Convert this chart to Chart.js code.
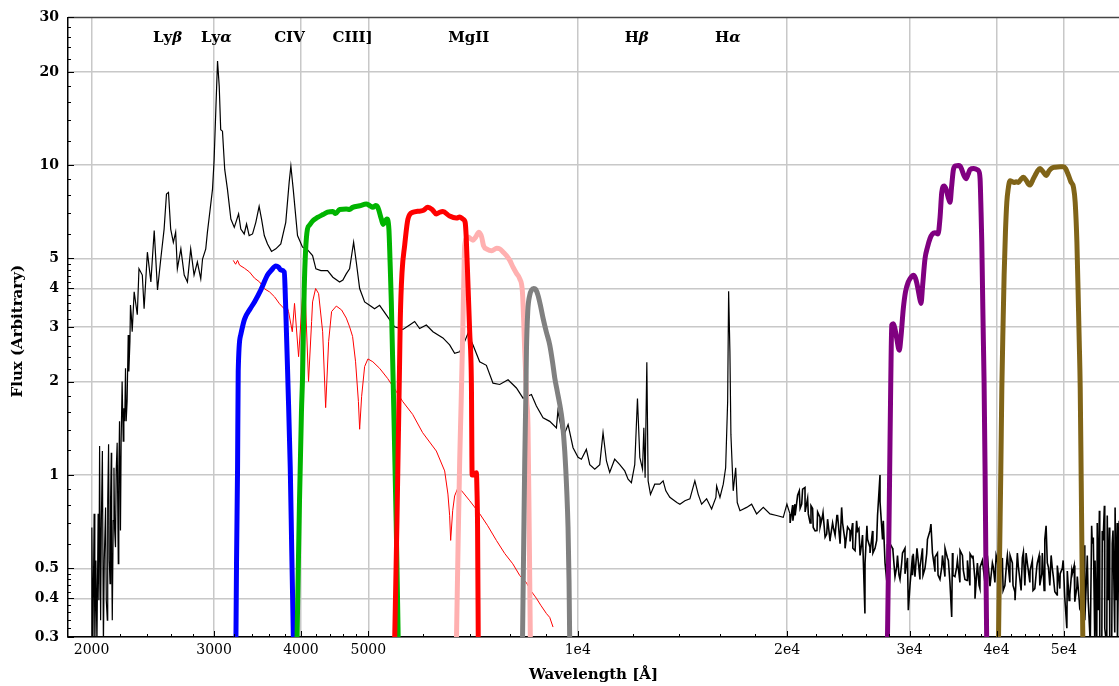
<!DOCTYPE html>
<html>
<head>
<meta charset="utf-8">
<script src="https://cdn.jsdelivr.net/npm/chart.js@4.4.0/dist/chart.umd.min.js"></script>
<style>
  html, body { margin: 0; padding: 0; background: #fff; }
  #wrap { width: 1119px; height: 686px; }
</style>
</head>
<body>
<div id="wrap"><canvas id="chart" width="1119" height="686"></canvas></div>
<script>
/**
 * Quasar spectrum with filter curves (log-log)
 */

// Axis ticks
const xTickValues = [2000, 3000, 4000, 5000, 10000, 20000, 30000, 40000, 50000];
const xTickLabels = ['2000', '3000', '4000', '5000', '1e4', '2e4', '3e4', '4e4', '5e4'];
const xMinorTicks = [2200, 2400, 2600, 2800, 3200, 3400, 3600, 3800, 4200, 4400, 4600, 4800,
  6000, 7000, 8000, 9000, 12000, 14000, 16000, 18000, 22000, 24000, 26000, 28000,
  32000, 34000, 36000, 38000, 42000, 44000, 46000, 48000];
const yTickValues = [0.3, 0.4, 0.5, 1, 2, 3, 4, 5, 10, 20, 30];
const yTickLabels = ['0.3', '0.4', '0.5', '1', '2', '3', '4', '5', '10', '20', '30'];
const yMinorTicks = [0.32, 0.34, 0.36, 0.38, 0.42, 0.44, 0.46, 0.48, 0.6, 0.7, 0.8, 0.9,
  1.2, 1.4, 1.6, 1.8, 2.2, 2.4, 2.6, 2.8, 3.2, 3.4, 3.6, 3.8, 4.2, 4.4, 4.6, 4.8,
  6, 7, 8, 9, 12, 14, 16, 18, 22, 24, 26, 28];

// Emission line labels (observed wavelength)
const lineNames = ['Lyβ', 'Lyα', 'CIV', 'CIII]', 'MgII', 'Hβ', 'Hα'];
const lineWaves = [2572, 3024, 3851, 4746, 6970, 12158, 16440];
const lineLabelFlux = 25.7;

// Observed spectrum [wavelength, flux]
const spectrum = [
  [2000,0.28],[2002,0.677],[2009,0.28],[2017,0.75],[2022,0.28],[2029,0.53],[2036,0.28],[2044,0.75],
  [2049,0.394],[2054,1.24],[2061,0.34],[2066,0.712],[2073,1.195],[2080,0.28],[2086,0.53],[2095,0.785],
  [2100,0.394],[2107,0.34],[2110,0.826],[2116,1.256],[2121,0.53],[2126,0.446],[2130,0.826],[2135,1.18],
  [2138,0.53],[2142,0.34],[2149,0.712],[2154,1.055],[2159,0.662],[2165,0.585],[2170,1.031],[2177,1.271],
  [2185,0.517],[2189,1.031],[2194,1.492],[2201,0.662],[2206,1.287],[2213,2.005],[2221,1.287],[2226,1.644],
  [2232,1.492],[2238,2.21],[2243,1.492],[2250,1.729],[2258,2.83],[2263,2.16],[2271,2.70],[2275,3.54],
  [2281,3.29],[2288,2.90],[2303,3.90],[2327,3.29],[2340,4.63],[2366,4.42],[2380,3.44],[2406,5.24],
  [2434,4.20],[2461,6.15],[2488,3.96],[2515,4.98],[2543,6.22],[2563,8.07],[2580,8.17],[2599,6.22],
  [2622,5.64],[2642,6.08],[2657,4.63],[2688,5.37],[2718,4.42],[2747,4.20],[2777,5.37],[2808,4.42],
  [2839,4.87],[2871,4.30],[2888,4.98],[2919,5.37],[2935,6.08],[2962,7.22],[2985,8.37],[3001,10.44],
  [3018,15.12],[3035,21.7],[3052,17.97],[3067,13.03],[3085,12.88],[3108,9.69],[3136,8.37],[3172,6.70],
  [3208,6.30],[3254,6.96],[3278,6.22],[3315,6.00],[3341,6.46],[3370,5.93],[3408,6.00],[3445,6.54],
  [3483,7.37],[3511,6.70],[3543,5.93],[3581,5.57],[3629,5.27],[3681,5.37],[3742,5.57],[3804,6.54],
  [3847,8.80],[3869,9.94],[3899,8.37],[3955,5.93],[4021,5.44],[4087,5.34],[4157,5.11],[4203,4.63],
  [4273,4.57],[4369,4.57],[4446,4.35],[4546,4.20],[4596,4.26],[4647,4.46],[4699,4.63],[4762,5.64],
  [4804,4.87],[4858,4.00],[4939,3.62],[5020,3.53],[5104,3.44],[5190,3.53],[5306,3.29],[5453,3.01],
  [5606,2.95],[5732,3.05],[5828,3.13],[5925,2.97],[6058,3.05],[6192,2.90],[6400,2.77],[6544,2.63],
  [6653,2.47],[6765,2.50],[6878,2.70],[6952,2.86],[7070,2.63],[7228,2.32],[7390,2.26],[7554,1.98],
  [7724,1.96],[7940,2.03],[8163,1.91],[8344,1.77],[8579,1.82],[8721,1.67],[8915,1.53],[9115,1.49],
  [9319,1.42],[9365,1.61],[9525,1.32],[9686,1.455],[9846,1.225],[10010,1.14],[10122,1.125],[10289,1.21],
  [10406,1.08],[10580,1.045],[10756,1.08],[10874,1.37],[10997,1.11],[11116,1.02],[11301,1.125],[11492,1.08],
  [11684,1.031],[11813,0.97],[11943,0.945],[12077,1.08],[12186,1.765],[12281,1.14],[12392,1.045],[12446,1.42],
  [12499,0.98],[12570,2.31],[12624,0.957],[12723,0.866],[12904,0.934],[13122,0.934],[13266,0.957],[13386,0.889],
  [13564,0.847],[13884,0.815],[14024,0.805],[14258,0.826],[14496,0.838],[14736,0.957],[14901,0.866],[15069,0.805],
  [15321,0.838],[15576,0.777],[15800,0.847],[15837,0.922],[16013,0.847],[16189,0.934],[16317,1.055],[16426,1.729],
  [16479,3.92],[16549,2.50],[16604,1.35],[16731,0.889],[16869,1.055],[16956,0.815],[17110,0.767],[17493,0.786],
  [17782,0.805],[18079,0.749],[18481,0.786],[18896,0.749],[19315,0.74],[19745,0.73],[20188,0.749],[20524,0.805],
  [20822,0.889],[20989,0.805],[21218,0.911],[21452,0.749],[21805,0.677],[22300,0.73],[22800,0.645],[23308,0.677],
  [23955,0.786],[24218,0.615],[24623,0.662],[25170,0.712],[25595,0.600],[25875,0.357],[26308,0.585],[26901,0.615],
  [27200,1.0],[27499,0.712],[27809,0.457],[28117,0.600],[28740,0.504],[29226,0.522],[29871,0.366],[30361,0.557],
  [31050,0.504],[31745,0.557],[32196,0.694],[32629,0.543],[33369,0.504],[34106,0.530],[34484,0.348],[35060,0.504],
  [35840,0.492],[36645,0.557],[37251,0.399],[37880,0.504],[38728,0.457],[39580,0.504],[40480,0.48],[41387,0.530],
  [42532,0.394],[43008,0.504],[43726,0.564],[44707,0.492],[45702,0.504],[46473,0.48],[47134,0.686],[47499,0.504],
  [48284,0.468],[49380,0.48],[50486,0.32],[51321,0.492],[52195,0.435],[53071,0.357],[53952,0.504],[54548,0.28],
  [55109,0.629],[55740,0.28],[56230,0.767],[56680,0.28],[57166,0.796],[57620,0.28],[58107,0.677],[58570,0.28],
  [59230,0.786],[59690,0.28],[60030,0.712]
];

// Extra noisy samples of the infrared part of the spectrum
const spectrumNoise = [
  [19985,0.805],[20386,0.712],[21644,0.796],[22078,0.662],[22523,0.755],[23051,0.615],[23582,0.74],[24860,0.58],
  [25366,0.672],[26046,0.686],[26569,0.56],[28386,0.571],[28964,0.475],[29545,0.58],[30290,0.475],[30740,0.58],
  [31360,0.475],[32961,0.475],[33734,0.58],[34628,0.475],[35450,0.571],[36280,0.457],[37000,0.55],[37755,0.44],
  [38513,0.55],[39157,0.44],[39945,0.55],[40885,0.424],[41836,0.55],[42247,0.44],[43393,0.424],[44115,0.56],
  [45138,0.424],[46058,0.55],[46829,0.424],[47928,0.55],[48886,0.41],[49874,0.53],[50861,0.394],[51725,0.51],
  [52596,0.394],[53477,0.593],[54184,0.394],[54807,0.686],[55425,0.53],[55988,0.366],[56924,0.615],[57871,0.394],
  [58823,0.662],[59450,0.394],
  [20200,0.70],[20368,0.80],[20537,0.74],[20707,0.86],[20879,0.78],[21052,0.90],[21227,0.76],[21403,0.84],
  [21581,0.70],[21760,0.78],[21941,0.66],[22123,0.76],[22307,0.68],[22492,0.74],[22679,0.63],[22867,0.72],
  [23057,0.62],[23248,0.70],[23441,0.64],[23636,0.74],[23832,0.60],[24030,0.70],[24229,0.58],[24430,0.68],
  [24633,0.61],[24837,0.70],[25043,0.57],[25251,0.66],[25461,0.55],[25672,0.64],[25885,0.52],[26100,0.62],
  [26317,0.56],[26535,0.66],[26755,0.58],[26977,0.74],[27201,0.82],[27427,0.62],[27655,0.52],[27884,0.60],
  [28116,0.50],[28349,0.58],[28584,0.47],[28821,0.55],[29061,0.46],[29302,0.56],[29545,0.48],[29790,0.54],
  [30037,0.44],[30287,0.55],[30538,0.47],[30792,0.56],[31047,0.46],[31305,0.58],[31565,0.50],[31827,0.62],
  [32091,0.66],[32357,0.56],[32626,0.49],[32897,0.56],[33170,0.46],[33445,0.55],[33723,0.47],[34003,0.54],
  [34285,0.45],[34569,0.56],[34856,0.47],[35146,0.53],[35437,0.45],[35732,0.55],[36028,0.46],[36327,0.53],
  [36629,0.44],[36933,0.54],[37239,0.46],[37548,0.52],[37860,0.43],[38174,0.53],[38491,0.45],[38811,0.55],
  [39133,0.44],[39458,0.52],[39785,0.45],[40115,0.53],[40448,0.43],[40784,0.54],[41123,0.44],[41464,0.55],
  [41808,0.45],[42155,0.52],[42505,0.42],[42858,0.56],[43213,0.46],[43572,0.54],[43934,0.44],[44298,0.52],
  [44666,0.45],[45037,0.53],[45410,0.43],[45787,0.52],[46167,0.44],[46550,0.56],[46937,0.62],[47326,0.52],
  [47719,0.44],[48115,0.50],[48515,0.42],[48917,0.51],[49323,0.43],[49733,0.50],[50146,0.40],[50562,0.49],
  [50982,0.41],[51405,0.48],[51832,0.39],[52262,0.47],[52696,0.37],[53133,0.50],[53574,0.34],[54019,0.55],
  [54467,0.31],[54919,0.60],[55375,0.29],[55835,0.70],[56298,0.30],[56765,0.66],[57237,0.32],[57712,0.74],
  [58191,0.29],[58674,0.60],[59161,0.31],[59652,0.70]
];

// Model spectrum (thin red)
const model = [
  [3197,4.93],[3222,4.79],[3243,4.93],[3264,4.76],[3318,4.65],[3374,4.52],[3430,4.32],[3488,4.20],
  [3546,3.99],[3605,3.90],[3665,3.76],[3726,3.57],[3785,3.44],[3814,3.54],[3839,3.37],[3887,2.90],
  [3916,3.58],[3969,2.41],[4025,3.90],[4061,3.62],[4102,2.005],[4144,3.13],[4157,3.62],[4199,4.00],
  [4241,3.85],[4298,2.90],[4341,1.65],[4384,2.70],[4427,3.37],[4497,3.51],[4576,3.41],[4648,3.21],
  [4699,3.01],[4746,2.80],[4793,2.32],[4838,1.729],[4858,1.405],[4890,1.795],[4939,2.24],[4993,2.37],
  [5075,2.32],[5190,2.21],[5329,2.05],[5484,1.862],[5600,1.729],[5789,1.57],[5984,1.37],[6262,1.195],
  [6437,1.031],[6507,0.868],[6544,0.739],[6566,0.615],[6610,0.767],[6653,0.856],[6727,0.91],[6810,0.889],
  [6993,0.826],[7228,0.75],[7422,0.686],[7639,0.615],[7853,0.558],[8064,0.517],[8253,0.474],[8438,0.449],
  [8558,0.424],[8721,0.40],[8847,0.38],[9016,0.357],[9115,0.347],[9215,0.323]
];

// Filter transmission curves (scaled)
const blueFilter = [
  [3225,0.28],[3232,0.53],[3243,1.055],[3250,2.16],[3278,2.84],[3318,3.18],[3382,3.44],[3430,3.62],
  [3503,3.96],[3581,4.42],[3629,4.59],[3681,4.73],[3714,4.69],[3742,4.59],[3785,4.52],[3801,3.62],
  [3832,1.96],[3861,1.055],[3880,0.571],[3903,0.28]
];
const greenFilter = [
  [3947,0.28],[3981,0.826],[4007,1.606],[4021,2.06],[4044,4.00],[4061,5.24],[4087,6.22],[4116,6.41],
  [4161,6.62],[4225,6.78],[4302,6.93],[4369,7.05],[4446,7.09],[4487,6.98],[4546,7.2],[4647,7.22],
  [4699,7.2],[4746,7.31],[4858,7.40],[4967,7.49],[5020,7.41],[5075,7.31],[5121,7.41],[5159,7.31],
  [5220,6.70],[5250,6.44],[5317,6.70],[5352,6.22],[5373,4.87],[5395,3.62],[5436,1.729],[5482,0.712],
  [5522,0.28]
];
const redFilter = [
  [5453,0.28],[5497,0.712],[5545,2.32],[5558,3.21],[5590,4.52],[5638,5.50],[5700,6.70],[5795,7.05],
  [5886,7.10],[5990,7.14],[6089,7.31],[6175,7.20],[6262,6.96],[6331,7.05],[6400,7.09],[6544,6.85],
  [6691,6.75],[6765,6.80],[6839,6.70],[6889,6.54],[6913,5.86],[6954,4.10],[6993,2.90],[7033,1.96],
  [7050,1.0],[7071,1.0],[7150,1.017],[7164,0.889],[7178,0.677],[7195,0.28]
];
const pinkFilter = [
  [6691,0.28],[6731,0.615],[6765,1.11],[6799,1.729],[6839,3.13],[6862,4.52],[6878,5.50],[6954,5.86],
  [7070,5.73],[7133,5.86],[7211,6.08],[7276,5.86],[7320,5.50],[7413,5.35],[7522,5.30],[7647,5.39],
  [7724,5.37],[7814,5.24],[7897,5.11],[7984,4.93],[8072,4.69],[8163,4.48],[8253,4.30],[8327,3.90],
  [8363,3.13],[8391,2.50],[8447,1.729],[8483,1.42],[8516,0.662],[8550,0.28]
];
const grayFilter = [
  [8327,0.28],[8363,0.615],[8391,1.11],[8419,1.729],[8438,2.50],[8475,3.37],[8530,3.80],[8587,3.96],
  [8644,4.00],[8702,3.97],[8768,3.80],[8833,3.55],[8915,3.21],[9011,2.90],[9115,2.63],[9199,2.32],
  [9267,2.06],[9345,1.862],[9422,1.69],[9501,1.492],[9579,1.195],[9643,0.889],[9684,0.677],[9716,0.457],
  [9739,0.28]
];
const purpleFilter = [
  [27869,0.28],[27980,0.53],[28073,0.957],[28186,2.005],[28280,3.05],[28430,3.08],[28592,2.95],[28740,2.77],
  [28993,2.53],[29157,2.80],[29379,3.44],[29594,3.90],[29871,4.20],[30140,4.35],[30361,4.41],[30585,4.32],
  [30770,4.10],[30990,3.76],[31153,3.58],[31310,4.05],[31568,4.99],[31830,5.44],[32098,5.80],[32365,6.00],
  [32629,6.05],[32961,6.00],[33180,6.78],[33369,8.17],[33625,8.57],[33850,8.37],[34075,7.90],[34298,7.59],
  [34470,8.5],[34684,9.69],[34938,9.95],[35252,9.97],[35450,9.93],[35650,9.69],[35920,9.25],[36160,9.05],
  [36400,9.33],[36645,9.69],[37080,9.75],[37467,9.69],[37690,9.6],[37880,9.05],[38006,7.05],[38095,5.64],
  [38196,3.90],[38297,2.70],[38386,2.005],[38514,1.031],[38616,0.53],[38728,0.28]
];
const oliveFilter = [
  [40253,0.28],[40400,0.53],[40573,1.031],[40711,1.91],[40885,3.13],[41020,4.41],[41200,6.08],[41387,7.59],
  [41566,8.35],[41836,8.91],[42115,8.86],[42391,8.80],[42675,8.84],[43008,8.80],[43350,9.0],[43726,9.14],
  [44115,8.94],[44480,8.68],[44707,8.63],[45080,8.94],[45454,9.27],[45835,9.6],[46210,9.75],[46595,9.57],
  [47139,9.27],[47612,9.6],[48040,9.79],[48560,9.85],[49380,9.88],[49920,9.88],[50280,9.75],[50767,9.27],
  [51140,8.86],[51610,8.48],[51900,7.59],[52195,5.64],[52470,3.44],[52600,2.70],[52770,1.91],[52945,0.957],
  [53090,0.53],[53240,0.28]
];

function toPoints(pairs) {
  return pairs.map(p => ({ x: p[0], y: p[1] }));
}

function filterDataset(label, pairs, color, order) {
  return {
    label,
    data: toPoints(pairs),
    borderColor: color,
    borderWidth: 5,
    pointRadius: 0,
    cubicInterpolationMode: 'monotone',
    borderJoinStyle: 'round',
    clip: 0,
    order
  };
}

// Tick marks inside the frame, line labels and axis titles
const decorations = {
  id: 'decorations',
  afterDraw(chart) {
    const { ctx, chartArea: a } = chart;
    const xs = chart.scales.x;
    const ys = chart.scales.y;
    ctx.save();

    // top frame line
    ctx.strokeStyle = '#444';
    ctx.lineWidth = 1.5;
    ctx.beginPath();
    ctx.moveTo(a.left, a.top);
    ctx.lineTo(a.right, a.top);
    ctx.stroke();

    ctx.strokeStyle = '#000';
    ctx.lineWidth = 1;
    ctx.beginPath();
    xMinorTicks.forEach(v => {
      const px = Math.round(xs.getPixelForValue(v)) + 0.5;
      ctx.moveTo(px, a.bottom); ctx.lineTo(px, a.bottom - 3);
    });
    xTickValues.forEach(v => {
      const px = Math.round(xs.getPixelForValue(v)) + 0.5;
      ctx.moveTo(px, a.bottom); ctx.lineTo(px, a.bottom - 6);
    });
    yMinorTicks.forEach(v => {
      const py = Math.round(ys.getPixelForValue(v)) + 0.5;
      ctx.moveTo(a.left, py); ctx.lineTo(a.left + 3, py);
    });
    yTickValues.forEach(v => {
      const py = Math.round(ys.getPixelForValue(v)) + 0.5;
      ctx.moveTo(a.left, py); ctx.lineTo(a.left + 6, py);
    });
    ctx.stroke();

    // emission line names, greek letters in italic
    ctx.fillStyle = '#000';
    ctx.textBaseline = 'middle';
    ctx.textAlign = 'left';
    const upright = 'bold 15px "DejaVu Serif"';
    const italic = 'italic bold 15px "DejaVu Serif"';
    const ly = ys.getPixelForValue(lineLabelFlux);
    lineNames.forEach((name, i) => {
      const parts = name.split('').map(ch => ({ ch, font: /[α-ω]/.test(ch) ? italic : upright }));
      let w = 0;
      parts.forEach(p => { ctx.font = p.font; w += ctx.measureText(p.ch).width; });
      let px = xs.getPixelForValue(lineWaves[i]) - w / 2;
      parts.forEach(p => {
        ctx.font = p.font;
        ctx.fillText(p.ch, px, ly);
        px += ctx.measureText(p.ch).width;
      });
    });

    // axis titles
    ctx.font = 'bold 15px "DejaVu Serif"';
    ctx.textAlign = 'center';
    ctx.fillText('Wavelength [Å]', (a.left + a.right) / 2, 675);
    ctx.translate(18, (a.top + a.bottom) / 2 + 4);
    ctx.rotate(-Math.PI / 2);
    ctx.fillText('Flux (Arbitrary)', 0, 0);
    ctx.restore();
  }
};

const allSpectrum = spectrum.concat(spectrumNoise).sort((p, q) => p[0] - q[0]);

new Chart(document.getElementById('chart'), {
  type: 'line',
  data: {
    datasets: [
      filterDataset('gray', grayFilter, '#808080', 1),
      filterDataset('red', redFilter, '#ff0000', 1),
      filterDataset('pink', pinkFilter, '#ffb0b0', 1),
      filterDataset('green', greenFilter, '#00b400', 1),
      filterDataset('blue', blueFilter, '#0000ff', 1),
      filterDataset('purple', purpleFilter, '#800080', 1),
      filterDataset('olive', oliveFilter, '#806418', 1),
      {
        label: 'model',
        data: toPoints(model),
        borderColor: '#ff0000',
        borderWidth: 1,
        pointRadius: 0,
        clip: 0,
        order: 2
      },
      {
        label: 'spectrum',
        data: toPoints(allSpectrum),
        borderColor: '#000',
        borderWidth: 1.2,
        pointRadius: 0,
        clip: 0,
        order: 3,
        // the noisy infrared part looks heavier
        segment: {
          borderWidth: (c) => (c.p0.parsed.x > 20000 ? 1.6 : 1.2)
        }
      }
    ]
  },
  options: {
    responsive: false,
    devicePixelRatio: 1,
    animation: false,
    layout: { padding: { top: 14, right: 0, left: 0, bottom: 0 } },
    plugins: {
      legend: { display: false },
      tooltip: { enabled: false }
    },
    scales: {
      x: {
        type: 'logarithmic',
        min: 1850,
        max: 60000,
        afterBuildTicks: (axis) => { axis.ticks = xTickValues.map(v => ({ value: v })); },
        afterFit: (axis) => { axis.height = 49; },
        border: { display: true, color: '#000', width: 1.5 },
        grid: { drawTicks: false, color: '#c8c8c8', lineWidth: 1.5 },
        ticks: {
          autoSkip: false,
          maxRotation: 0,
          padding: 5,
          color: '#000',
          font: { family: 'DejaVu Serif', size: 14 },
          callback: (val, i) => xTickLabels[i]
        }
      },
      y: {
        type: 'logarithmic',
        min: 0.3,
        max: 30,
        afterBuildTicks: (axis) => { axis.ticks = yTickValues.map(v => ({ value: v })); },
        afterFit: (axis) => { axis.width = 68; },
        border: { display: true, color: '#000', width: 1.5 },
        grid: {
          drawTicks: false,
          lineWidth: 1.5,
          color: (c) => (c.tick && c.tick.value === 30 ? 'rgba(0,0,0,0)' : '#c8c8c8')
        },
        ticks: {
          padding: 9,
          color: '#000',
          font: { family: 'DejaVu Serif', size: 14, weight: 'bold' },
          callback: (val, i) => yTickLabels[i]
        }
      }
    }
  },
  plugins: [decorations]
});
</script>
</body>
</html>
